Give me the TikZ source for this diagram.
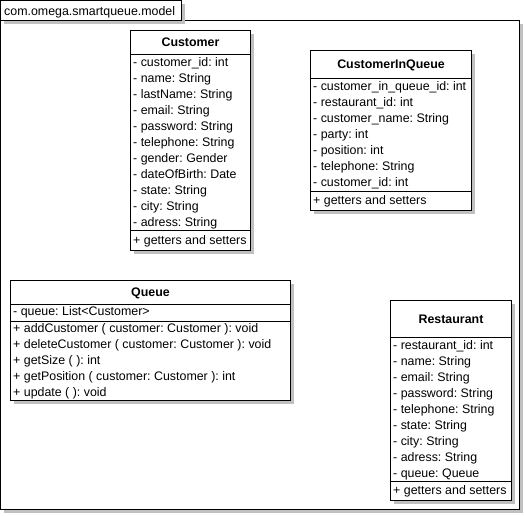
\documentclass[tikz,border=0pt]{standalone}
\usepackage{fontspec}
\setmainfont{Liberation Sans}
\usetikzlibrary{shadows}
\definecolor{shd}{RGB}{192,192,192}
\tikzset{
  box/.style={draw=black, line width=1pt, fill=white, inner sep=0pt, outer sep=0pt, anchor=north west,
    drop shadow={shadow xshift=3.5pt, shadow yshift=-3.5pt, fill=shd, opacity=1}},
  txt/.style={inner sep=0pt, anchor=base west, font=\fontsize{12.4}{14}\selectfont\frenchspacing},
  hdr/.style={inner sep=0pt, anchor=base, font=\fontsize{12.4}{14}\selectfont\bfseries},
  sep/.style={line width=1pt}
}
\begin{document}
\begin{tikzpicture}[x=1pt,y=-1pt]
\useasboundingbox (0,0) rectangle (525,515);
% package frame
\node[box, minimum width=518.5pt, minimum height=489pt] (frame) at (0.5,20.3) {};
\node[box, minimum width=180.5pt, minimum height=19.8pt] (tab) at (0.5,0.5) {};
\node[txt] (tabtxt) at (4,15) {com.omega.smartqueue.model};

% Customer
\node[box, minimum width=120pt, minimum height=220pt] (customer) at (130.5,30.5) {};
\draw[sep] (customer.west |- 0,54) -- (customer.east |- 0,54);
\draw[sep] (customer.west |- 0,230) -- (customer.east |- 0,230);
\node[hdr] (cust-h) at (190.5,46.5) {Customer};
\foreach \t [count=\i from 0] in {- customer\_id: int, - name: String, - lastName: String, - email: String, - password: String, - telephone: String, - gender: Gender, - dateOfBirth: Date, - state: String, - city: String, - adress: String}
  \node[txt] (cust-a\i) at (133,66.7+16*\i) {\t};
\node[txt] (cust-m) at (133,244) {+ getters and setters};

% CustomerInQueue
\node[box, minimum width=161pt, minimum height=160pt] (ciq) at (310.5,50.5) {};
\draw[sep] (ciq.west |- 0,78) -- (ciq.east |- 0,78);
\draw[sep] (ciq.west |- 0,191) -- (ciq.east |- 0,191);
\node[hdr] (ciq-h) at (391,68.5) {CustomerInQueue};
\foreach \t [count=\i from 0] in {- customer\_in\_queue\_id: int, - restaurant\_id: int, - customer\_name: String, - party: int, - position: int, - telephone: String, - customer\_id: int}
  \node[txt] (ciq-a\i) at (313,90.7+16*\i) {\t};
\node[txt] (ciq-m) at (313,204.7) {+ getters and setters};

% Queue
\node[box, minimum width=280pt, minimum height=120pt] (queue) at (10.5,280.5) {};
\draw[sep] (queue.west |- 0,304) -- (queue.east |- 0,304);
\draw[sep] (queue.west |- 0,321) -- (queue.east |- 0,321);
\node[hdr] (queue-h) at (150.5,296.5) {Queue};
\node[txt] (queue-a) at (13,315) {- queue: List<Customer>};
\foreach \t [count=\i from 0] in {+ addCustomer ( customer: Customer ): void, + deleteCustomer ( customer: Customer ): void, + getSize ( ): int, + getPosition ( customer: Customer ): int, + update ( ): void}
  \node[txt] (queue-m\i) at (13,332.7+16*\i) {\t};

% Restaurant
\node[box, minimum width=121pt, minimum height=200pt] (rest) at (390.5,300.5) {};
\draw[sep] (rest.west |- 0,337) -- (rest.east |- 0,337);
\draw[sep] (rest.west |- 0,481) -- (rest.east |- 0,481);
\node[hdr] (rest-h) at (451,323) {Restaurant};
\foreach \t [count=\i from 0] in {- restaurant\_id: int, - name: String, - email: String, - password: String, - telephone: String, - state: String, - city: String, - adress: String, - queue: Queue}
  \node[txt] (rest-a\i) at (393,349.2+16*\i) {\t};
\node[txt] (rest-m) at (393,494) {+ getters and setters};
\end{tikzpicture}
\end{document}
